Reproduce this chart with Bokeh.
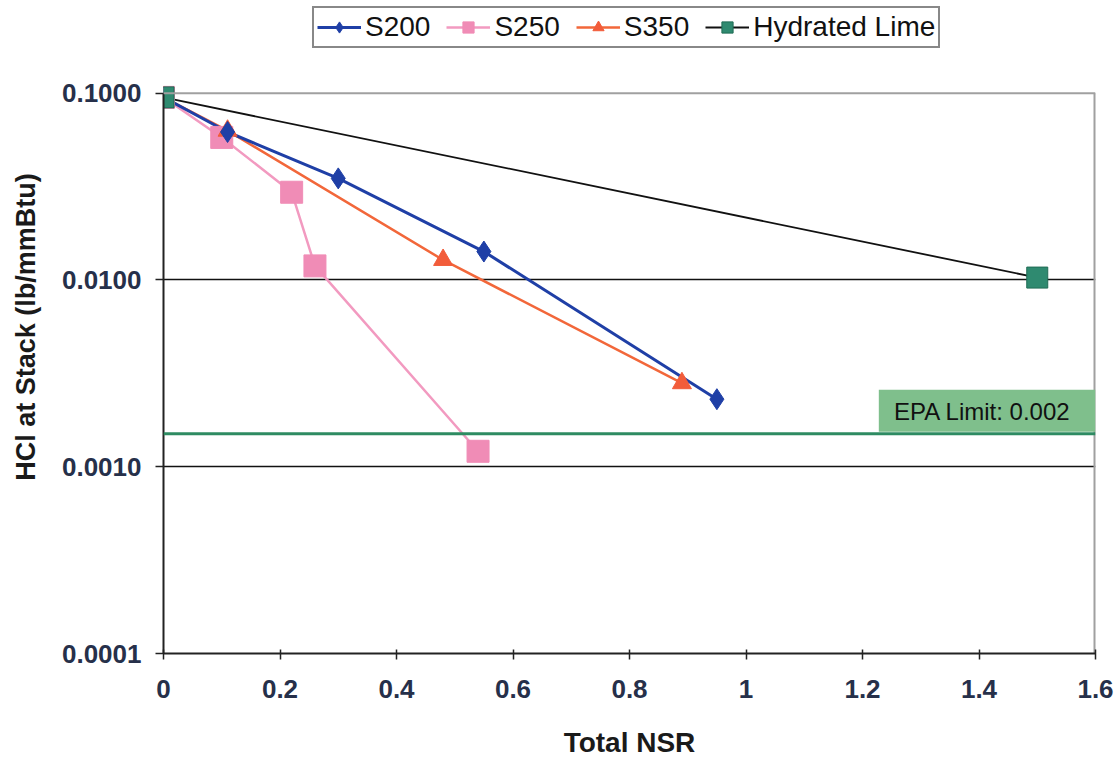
from bokeh.plotting import figure
from bokeh.models import (Range1d, FixedTicker, PrintfTickFormatter, Legend, LegendItem,
                          Span, Label)
from bokeh.embed import file_html
from bokeh.resources import INLINE

# ---- data ----
s200_x = [0.0, 0.11, 0.30, 0.55, 0.95]
s200_y = [0.095, 0.062, 0.035, 0.0142, 0.0023]

s250_x = [0.0, 0.10, 0.22, 0.26, 0.54]
s250_y = [0.095, 0.058, 0.0295, 0.0119, 0.00121]

s350_x = [0.0, 0.11, 0.48, 0.89]
s350_y = [0.095, 0.063, 0.0128, 0.0028]

lime_x = [0.0, 1.50]
lime_y = [0.095, 0.0103]

epa_limit = 0.0015
epa_text = "EPA Limit: 0.002"

x_ticks = [0.0, 0.2, 0.4, 0.6, 0.8, 1.0, 1.2, 1.4, 1.6]
x_tick_labels = ["0", "0.2", "0.4", "0.6", "0.8", "1", "1.2", "1.4", "1.6"]
y_ticks = [0.0001, 0.001, 0.01, 0.1]

FONT = "Liberation Sans"

# frame extends to the top of the canvas so the legend can sit above the 0.1 line
Y_MIN, Y_MAX = 0.0001, 0.1
Y_TOP = Y_MAX * 10 ** (93 / 187.3)

p = figure(width=1119, height=760, output_backend="svg", toolbar_location=None,
           y_axis_type="log", x_range=Range1d(0, 1.6), y_range=Range1d(Y_MIN, Y_TOP),
           min_border_left=163, min_border_right=24, min_border_top=0, min_border_bottom=105)
p.background_fill_color = "white"
p.border_fill_color = "white"
p.outline_line_color = None

# plot-area top and right edges (light grey)
p.add_layout(Span(location=Y_MAX, dimension="width", line_color="#a0a0a0", line_width=2))
p.segment(x0=[1.6], y0=[Y_MIN], x1=[1.6], y1=[Y_MAX], line_color="#a0a0a0", line_width=4)

# axes
p.xaxis.ticker = FixedTicker(ticks=x_ticks)
p.xaxis.major_label_overrides = {t: l for t, l in zip(x_ticks, x_tick_labels)}
p.xaxis.minor_tick_line_color = None
p.xaxis.major_tick_in = 4
p.xaxis.major_tick_out = 6
p.xaxis.axis_line_color = "#222222"
p.xaxis.axis_line_width = 2
p.xaxis.major_label_standoff = 20
p.xaxis.axis_label = "Total NSR"
p.xaxis.axis_label_standoff = 26

p.yaxis.ticker = FixedTicker(ticks=y_ticks)
p.yaxis.bounds = (Y_MIN, Y_MAX)
p.yaxis.formatter = PrintfTickFormatter(format="%.4f")
p.yaxis.minor_tick_line_color = None
p.yaxis.major_tick_in = 0
p.yaxis.major_tick_out = 8
p.yaxis.axis_line_color = "#222222"
p.yaxis.axis_line_width = 2
p.yaxis.major_label_standoff = 14
p.yaxis.axis_label = "HCl at Stack (lb/mmBtu)"
p.yaxis.axis_label_standoff = 18

for ax in (p.xaxis, p.yaxis):
    ax.major_label_text_font = FONT
    ax.major_label_text_font_style = "bold"
    ax.major_label_text_font_size = "26px"
    ax.major_label_text_color = "#26304a"
    ax.axis_label_text_font = FONT
    ax.axis_label_text_font_style = "bold"
    ax.major_tick_line_color = "#222222"
    ax.major_tick_line_width = 1.5
    ax.axis_label_text_color = "#1a1a1a"
p.xaxis.axis_label_text_font_size = "28px"
p.yaxis.axis_label_text_font_size = "27px"

p.xgrid.grid_line_color = None
p.ygrid.ticker = FixedTicker(ticks=[0.001, 0.01])
p.ygrid.grid_line_color = "#111111"
p.ygrid.grid_line_width = 1.5

# EPA limit
p.add_layout(Span(location=epa_limit, dimension="width", line_color="#2e8b62", line_width=3))
p.quad(left=[1.228], right=[1.6], bottom=[0.00154], top=[0.00258],
       fill_color="#7fbf8c", line_color=None)
p.add_layout(Label(x=1.254, y=0.00198, text=epa_text, text_font=FONT, text_font_size="24px",
                   text_color="#111111", text_baseline="middle"))

# series
l_lime = p.line(lime_x, lime_y, line_color="#111111", line_width=1.8)
l250 = p.line(s250_x, s250_y, line_color="#f29ac0", line_width=2.5)
l350 = p.line(s350_x, s350_y, line_color="#f2673a", line_width=2.5)
l200 = p.line(s200_x, s200_y, line_color="#1f3fa6", line_width=3)
m250 = p.scatter(s250_x, s250_y, marker="square", size=22, fill_color="#f08cb6", line_color="#f08cb6")
m350 = p.scatter(s350_x, s350_y, marker="triangle", size=19, fill_color="#f25c3a", line_color="#f25c3a")
m200 = p.scatter(s200_x, s200_y, marker="diamond", size=21, fill_color="#1f3fa6", line_color="#1f3fa6")
m_lime = p.scatter(lime_x, lime_y, marker="square", size=21, fill_color="#2f8a70", line_color="#1f6b55")

legend = Legend(items=[
    LegendItem(label="S200", renderers=[l200, m200]),
    LegendItem(label="S250", renderers=[l250, m250]),
    LegendItem(label="S350", renderers=[l350, m350]),
    LegendItem(label="Hydrated Lime", renderers=[l_lime, m_lime]),
], orientation="horizontal", location=(149, 605))
legend.label_text_font = FONT
legend.label_text_font_size = "28px"
legend.label_text_color = "#111111"
legend.glyph_width = 44
legend.glyph_height = 28
legend.label_standoff = 4
legend.spacing = 16
legend.padding = 3
legend.margin = 0
legend.border_line_color = "#111111"
legend.border_line_width = 2
legend.background_fill_color = "white"
legend.background_fill_alpha = 1
p.add_layout(legend, "center")

open("out.html", "w").write(file_html(p, INLINE))
